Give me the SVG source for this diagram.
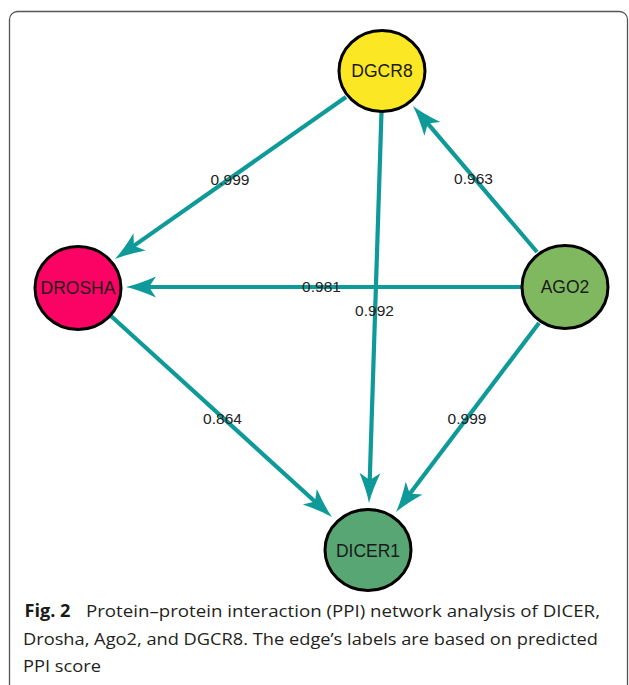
<svg xmlns="http://www.w3.org/2000/svg" width="629" height="685" viewBox="0 0 629 685">
  <defs>
    <marker id="arr" markerUnits="userSpaceOnUse" markerWidth="32" markerHeight="24" viewBox="0 -12 32 24" refX="8" refY="0" orient="auto">
      <path d="M30,0 Q17,-3 0,-10.5 L7,0 L0,10.5 Q17,3 30,0 Z" fill="#0e9a98"/>
    </marker>
  </defs>
  <style>
    .edge { stroke: #0e9a98; stroke-width: 4.2; fill: none; marker-end: url(#arr); }
    .node { stroke: #000; stroke-width: 3; }
    .nlabel { font-family: "Liberation Sans", Arial, sans-serif; font-size: 17.5px; fill: #1a1a1a; text-anchor: middle; }
    .elabel { font-family: "Liberation Sans", Arial, sans-serif; font-size: 15.5px; fill: #222; text-anchor: middle; }
    .cap { font-family: "Open Sans", "Liberation Sans", sans-serif; font-size: 16.5px; fill: #231f20; }
    .capb { font-family: "Open Sans", "Liberation Sans", sans-serif; font-size: 17px; font-weight: bold; fill: #1a1a1a; }
  </style>
  <rect x="9.5" y="11.5" width="618" height="700" rx="8" ry="8" fill="#fff" stroke="#555" stroke-width="1.3"/>

  <g id="connectors">
    <line class="edge" x1="346" y1="97" x2="133" y2="246.4"/>
    <line class="edge" x1="381.5" y1="112" x2="369.7" y2="481"/>
    <line class="edge" x1="537" y1="252" x2="427.2" y2="122.8"/>
    <line class="edge" x1="522" y1="287" x2="148" y2="287"/>
    <line class="edge" x1="111" y1="316" x2="315.7" y2="502.2"/>
    <line class="edge" x1="539" y1="323" x2="409.3" y2="494.5"/>
  </g>

  <g id="edge-labels">
    <text class="elabel" x="230" y="185">0.999</text>
    <text class="elabel" x="473.5" y="184">0.963</text>
    <text class="elabel" x="321.5" y="292">0.981</text>
    <text class="elabel" x="374.5" y="316">0.992</text>
    <text class="elabel" x="222.5" y="424">0.864</text>
    <text class="elabel" x="467" y="424">0.999</text>
  </g>

  <g id="node-DGCR8">
    <ellipse class="node" cx="382" cy="71" rx="43" ry="40.5" fill="#fbe723"/>
    <text class="nlabel" x="382" y="77">DGCR8</text>
  </g>
  <g id="node-DROSHA">
    <ellipse class="node" cx="78" cy="288" rx="43" ry="41.5" fill="#fb0265"/>
    <text class="nlabel" x="78" y="294">DROSHA</text>
  </g>
  <g id="node-AGO2">
    <ellipse class="node" cx="565" cy="287" rx="43" ry="41.5" fill="#80b860"/>
    <text class="nlabel" x="565" y="293">AGO2</text>
  </g>
  <g id="node-DICER1">
    <ellipse class="node" cx="368" cy="550" rx="43" ry="40.5" fill="#58a673"/>
    <text class="nlabel" x="368" y="557">DICER1</text>
  </g>

  <g id="caption">
    <text class="capb" x="24.5" y="617" textLength="46" lengthAdjust="spacingAndGlyphs">Fig. 2</text>
    <text class="cap" x="86" y="617" textLength="514" lengthAdjust="spacingAndGlyphs">Protein–protein interaction (PPI) network analysis of DICER,</text>
    <text class="cap" x="23" y="645" textLength="575" lengthAdjust="spacingAndGlyphs">Drosha, Ago2, and DGCR8. The edge’s labels are based on predicted</text>
    <text class="cap" x="23" y="672" textLength="78" lengthAdjust="spacingAndGlyphs">PPI score</text>
  </g>
</svg>
